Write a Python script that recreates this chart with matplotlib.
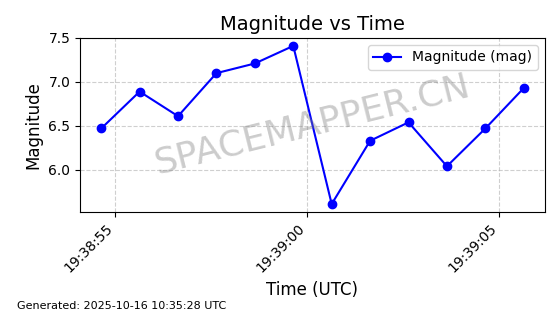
import matplotlib
matplotlib.use('Agg')
import matplotlib.pyplot as plt
import matplotlib.dates as mdates
import pandas as pd

# observation times (UTC) and magnitudes
start = pd.Timestamp('2025-10-15 19:38:54.64')
times = [start + pd.Timedelta(seconds=i) for i in range(12)]
mags = [6.47, 6.89, 6.61, 7.10, 7.21, 7.41, 5.61, 6.33, 6.54, 6.04, 6.47, 6.93]
label = 'Magnitude (mag)'
footer = 'Generated: 2025-10-16 10:35:28 UTC'

fig, ax = plt.subplots(figsize=(5.6, 3.14), dpi=100)
ax.plot(times, mags, 'o-', color='blue', linewidth=1.5, markersize=6, label=label)

ax.set_title('Magnitude vs Time', fontsize=14)
ax.set_xlabel('Time (UTC)', fontsize=12)
ax.set_ylabel('Magnitude', fontsize=12)
ax.xaxis.set_major_locator(mdates.SecondLocator(bysecond=range(0, 60, 5)))
ax.xaxis.set_major_formatter(mdates.DateFormatter('%H:%M:%S'))
plt.setp(ax.get_xticklabels(), rotation=45, ha='right')
ax.grid(True, linestyle='--', alpha=0.6)
ax.legend(loc='upper right')

# watermark
ax.text(0.5, 0.5, 'SPACEMAPPER.CN', transform=ax.transAxes, fontsize=26,
        color='gray', alpha=0.4, rotation=14, ha='center', va='center')

fig.text(0.03, 0.015, footer, fontsize=8)
fig.subplots_adjust(left=0.143, right=0.973, top=0.879, bottom=0.325)
fig.savefig('out.png', dpi=100)
